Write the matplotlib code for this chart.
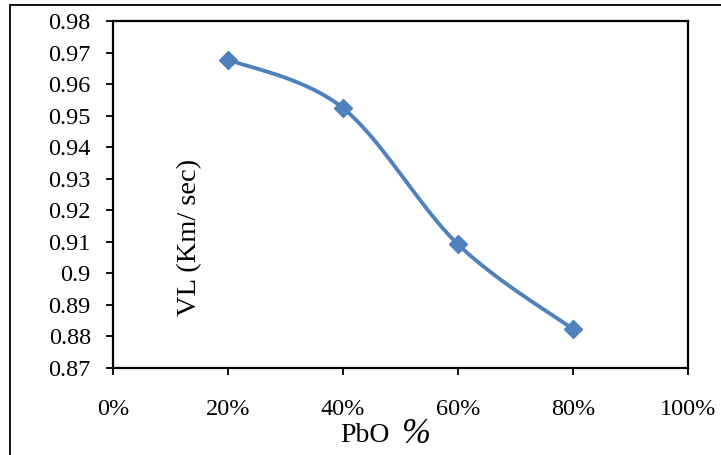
import numpy as np
import matplotlib
matplotlib.use('Agg')
import matplotlib.pyplot as plt
from matplotlib.ticker import FuncFormatter
from matplotlib.lines import Line2D

# values
pbo = [0.2, 0.4, 0.6, 0.8]
vl = [0.9678, 0.9524, 0.9092, 0.8823]
yticks = [0.87, 0.88, 0.89, 0.9, 0.91, 0.92, 0.93, 0.94, 0.95, 0.96, 0.97, 0.98]
xticks = [0, 0.2, 0.4, 0.6, 0.8, 1.0]

BLUE = '#4F81BD'
plt.rcParams['font.family'] = ['Liberation Serif', 'DejaVu Serif']


def smooth(ax, xs, ys, n=40):
    # excel-like smoothed line: cubic bezier with catmull-rom control points, in screen space
    pts = ax.transData.transform(np.column_stack([xs, ys]))
    p = np.vstack([pts[0], pts, pts[-1]])
    out = []
    for i in range(1, len(p) - 2):
        p0, p3 = p[i], p[i + 1]
        c1 = p0 + (p[i + 1] - p[i - 1]) / 6.0
        c2 = p3 - (p[i + 2] - p[i]) / 6.0
        t = np.linspace(0, 1, n)[:, None]
        seg = (1 - t) ** 3 * p0 + 3 * (1 - t) ** 2 * t * c1 + 3 * (1 - t) * t ** 2 * c2 + t ** 3 * p3
        out.append(seg)
    out = np.vstack(out)
    return ax.transData.inverted().transform(out)


fig = plt.figure(figsize=(7.21, 4.55), dpi=100)
ax = fig.add_axes([0.1567, 0.1912, 0.7975, 0.7626])
ax.set_xlim(0, 1)
ax.set_ylim(0.87, 0.98)

curve = smooth(ax, pbo, vl)
ax.plot(curve[:, 0], curve[:, 1], color=BLUE, lw=2.8, solid_capstyle='round', zorder=3)
ax.plot(pbo, vl, linestyle='none', marker='D', ms=9.5, color=BLUE, zorder=4)

ax.set_xticks(xticks)
ax.set_yticks(yticks)
ax.xaxis.set_major_formatter(FuncFormatter(lambda v, p: '%d%%' % round(v * 100)))
ax.yaxis.set_major_formatter(FuncFormatter(lambda v, p: ('%.2f' % v).rstrip('0').rstrip('.')))
ax.tick_params(direction='out', length=5, width=1.3, labelsize=17.5, colors='black')
ax.tick_params(axis='x', pad=17)
ax.tick_params(axis='y', pad=11)
for s in ax.spines.values():
    s.set_linewidth(1.6)

# axis titles, placed as in the original sheet
fig.text(0.2635, 0.479, 'VL (Km/ sec)', rotation=90, ha='center', va='center', fontsize=20.5)
fig.text(0.541, 0.029, 'PbO', ha='right', va='baseline', fontsize=20)
fig.text(0.556, 0.027, '%', ha='left', va='baseline', fontsize=25, style='italic')

# outer chart frame (top and left edges visible)
fig.add_artist(Line2D([0.014, 1.0], [0.989, 0.989], transform=fig.transFigure, color='black', lw=1.3))
fig.add_artist(Line2D([0.014, 0.014], [0.0, 0.989], transform=fig.transFigure, color='black', lw=1.3))

fig.savefig('out.png', dpi=100)
